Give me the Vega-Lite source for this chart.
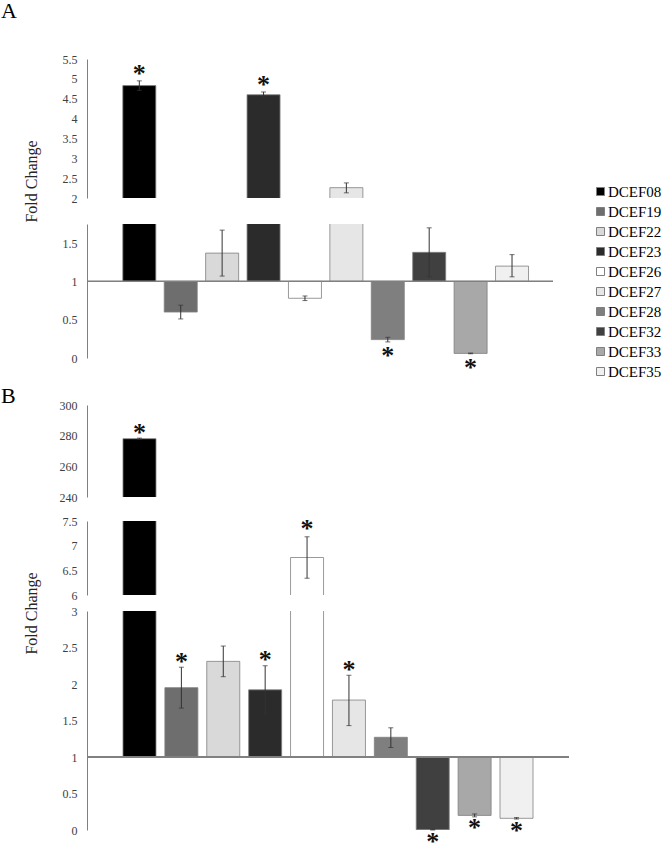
{
  "$schema": "https://vega.github.io/schema/vega-lite/v6.json",
  "padding": {"left": 1, "top": 0, "right": 0, "bottom": 0},
  "config": {
    "view": {"stroke": null},
    "font": "Liberation Serif",
    "axis": {"domainColor": "#808080", "domainWidth": 1, "ticks": false, "tickSize": 0, "grid": false, "labelFont": "Liberation Serif", "labelFontSize": 12, "labelColor": "#404040", "labelPadding": 10, "format": ".1~f", "labelOverlap": false, "labelFlush": false}
  },
  "datasets": {
    "d": [
      {"panel": "A", "name": "DCEF08", "value": 4.83, "lo": 4.71, "hi": 4.95, "seg": "A1", "star": "up"},
      {"panel": "A", "name": "DCEF19", "value": 0.60, "lo": 0.51, "hi": 0.69, "seg": "A2", "star": "none"},
      {"panel": "A", "name": "DCEF22", "value": 1.37, "lo": 1.07, "hi": 1.67, "seg": "A2", "star": "none"},
      {"panel": "A", "name": "DCEF23", "value": 4.60, "lo": 4.54, "hi": 4.67, "seg": "A1", "star": "up"},
      {"panel": "A", "name": "DCEF26", "value": 0.78, "lo": 0.75, "hi": 0.81, "seg": "A2", "star": "none"},
      {"panel": "A", "name": "DCEF27", "value": 2.26, "lo": 2.13, "hi": 2.38, "seg": "A1", "star": "none"},
      {"panel": "A", "name": "DCEF28", "value": 0.24, "lo": 0.21, "hi": 0.27, "seg": "A2", "star": "down"},
      {"panel": "A", "name": "DCEF32", "value": 1.38, "lo": 1.06, "hi": 1.70, "seg": "A2", "star": "none"},
      {"panel": "A", "name": "DCEF33", "value": 0.06, "lo": 0.055, "hi": 0.065, "seg": "A2", "star": "down"},
      {"panel": "A", "name": "DCEF35", "value": 1.20, "lo": 1.06, "hi": 1.35, "seg": "A2", "star": "none"},
      {"panel": "B", "name": "DCEF08", "value": 278.0, "lo": 277.6, "hi": 278.4, "seg": "B1", "star": "up"},
      {"panel": "B", "name": "DCEF19", "value": 1.95, "lo": 1.67, "hi": 2.23, "seg": "B3", "star": "up"},
      {"panel": "B", "name": "DCEF22", "value": 2.31, "lo": 2.10, "hi": 2.52, "seg": "B3", "star": "none"},
      {"panel": "B", "name": "DCEF23", "value": 1.92, "lo": 1.59, "hi": 2.25, "seg": "B3", "star": "up"},
      {"panel": "B", "name": "DCEF26", "value": 6.76, "lo": 6.34, "hi": 7.18, "seg": "B2", "star": "up"},
      {"panel": "B", "name": "DCEF27", "value": 1.78, "lo": 1.43, "hi": 2.12, "seg": "B3", "star": "up"},
      {"panel": "B", "name": "DCEF28", "value": 1.27, "lo": 1.13, "hi": 1.40, "seg": "B3", "star": "none"},
      {"panel": "B", "name": "DCEF32", "value": 0.004, "lo": 0.0, "hi": 0.008, "seg": "B3", "star": "down"},
      {"panel": "B", "name": "DCEF33", "value": 0.20, "lo": 0.18, "hi": 0.22, "seg": "B3", "star": "down"},
      {"panel": "B", "name": "DCEF35", "value": 0.16, "lo": 0.15, "hi": 0.17, "seg": "B3", "star": "down"}
    ]
  },
  "data": {"name": "d"},
  "bounds": "flush",
  "spacing": 0,
  "resolve": {"legend": {"fill": "independent"}},
  "vconcat": [
    {
      "width": 466, "height": 139,
      "title": {"text": "A", "anchor": "start", "frame": "group", "dx": -86, "dy": 21, "offset": 34, "fontSize": 22, "font": "Liberation Serif", "fontWeight": "normal", "baseline": "alphabetic", "color": "black"},
      "transform": [{"filter": "datum.panel == 'A'"}],
      "layer": [
        {
          "mark": {"type": "bar", "clip": true, "stroke": "#808080", "strokeWidth": 0.8},
          "encoding": {
            "x": {"field": "name", "type": "nominal", "sort": null, "axis": null, "scale": {"paddingInner": 0.203, "paddingOuter": 0.728, "align": 0.594}},
            "y": {"field": "value", "type": "quantitative", "title": "Fold Change", "scale": {"domain": [2, 5.5], "nice": false, "zero": false},
              "axis": {"values": [2, 2.5, 3, 3.5, 4, 4.5, 5, 5.5], "labelOverlap": false, "format": ".1~f", "title": "Fold Change", "titleX": -51, "titleY": 122, "titleAngle": -90, "titleAlign": "center", "titleBaseline": "alphabetic", "titleFontSize": 16, "titleFont": "Liberation Serif", "titleFontWeight": "normal", "titleColor": "#262626"}},
            "y2": {"datum": 1},
            "fill": {"field": "name", "type": "nominal", "legend": null,
              "scale": {"domain": ["DCEF08", "DCEF19", "DCEF22", "DCEF23", "DCEF26", "DCEF27", "DCEF28", "DCEF32", "DCEF33", "DCEF35"], "range": ["#000000", "#6e6e6e", "#d9d9d9", "#2b2b2b", "#ffffff", "#e6e6e6", "#7f7f7f", "#404040", "#a8a8a8", "#f0f0f0"]}}
          }
        },
        {
          "transform": [{"filter": "datum.seg == 'A1'"}],
          "mark": {"type": "errorbar", "color": "#333333", "thickness": 1, "ticks": {"size": 5}},
          "encoding": {
            "x": {"field": "name", "type": "nominal", "sort": null, "axis": null, "scale": {"paddingInner": 0.203, "paddingOuter": 0.728, "align": 0.594}},
            "y": {"field": "lo", "type": "quantitative", "title": "Fold Change", "scale": {"domain": [2, 5.5], "nice": false, "zero": false},
              "axis": {"values": [2, 2.5, 3, 3.5, 4, 4.5, 5, 5.5], "labelOverlap": false, "format": ".1~f", "title": "Fold Change", "titleX": -51, "titleY": 122, "titleAngle": -90, "titleAlign": "center", "titleBaseline": "alphabetic", "titleFontSize": 16, "titleFont": "Liberation Serif", "titleFontWeight": "normal", "titleColor": "#262626"}},
            "y2": {"field": "hi"}
          }
        },
        {
          "transform": [{"filter": "datum.seg == 'A1' && datum.star == 'up'"}],
          "mark": {"type": "text", "text": "*", "font": "Liberation Serif", "fontSize": 26, "fontWeight": "bold", "baseline": "alphabetic", "dy": 1.5, "color": "#111111"},
          "encoding": {
            "x": {"field": "name", "type": "nominal", "sort": null, "axis": null, "scale": {"paddingInner": 0.203, "paddingOuter": 0.728, "align": 0.594}},
            "y": {"field": "hi", "type": "quantitative", "title": "Fold Change", "scale": {"domain": [2, 5.5], "nice": false, "zero": false},
              "axis": {"values": [2, 2.5, 3, 3.5, 4, 4.5, 5, 5.5], "labelOverlap": false, "format": ".1~f", "title": "Fold Change", "titleX": -51, "titleY": 122, "titleAngle": -90, "titleAlign": "center", "titleBaseline": "alphabetic", "titleFontSize": 16, "titleFont": "Liberation Serif", "titleFontWeight": "normal", "titleColor": "#262626"}}
          }
        }
      ]
    },
    {"width": 10, "height": 26, "data": {"values": []}, "mark": "point"},
    {
      "width": 466, "height": 134,
      "transform": [{"filter": "datum.panel == 'A'"}],
      "layer": [
        {
          "mark": {"type": "bar", "clip": true, "stroke": "#808080", "strokeWidth": 0.8},
          "encoding": {
            "x": {"field": "name", "type": "nominal", "sort": null, "axis": null, "scale": {"paddingInner": 0.203, "paddingOuter": 0.728, "align": 0.594}},
            "y": {"field": "value", "type": "quantitative", "title": null, "scale": {"domain": [0, 1.75], "nice": false, "zero": false},
              "axis": {"values": [0, 0.5, 1, 1.5], "labelOverlap": false, "format": ".1~f", "title": null}},
            "y2": {"datum": 1},
            "fill": {"field": "name", "type": "nominal",
              "scale": {"domain": ["DCEF08", "DCEF19", "DCEF22", "DCEF23", "DCEF26", "DCEF27", "DCEF28", "DCEF32", "DCEF33", "DCEF35"], "range": ["#000000", "#6e6e6e", "#d9d9d9", "#2b2b2b", "#ffffff", "#e6e6e6", "#7f7f7f", "#404040", "#a8a8a8", "#f0f0f0"]},
              "legend": {"orient": "none", "legendX": 506, "legendY": -40, "title": null, "direction": "vertical", "symbolType": "square", "symbolSize": 64, "symbolStrokeColor": "#7f7f7f", "symbolStrokeWidth": 1, "labelFont": "Liberation Serif", "labelFontSize": 15, "labelColor": "#000000", "labelOffset": 0, "rowPadding": 4, "padding": 0}}
          }
        },
        {
          "mark": {"type": "rule", "color": "#808080", "strokeWidth": 1},
          "encoding": {"y": {"datum": 1, "type": "quantitative", "title": null, "scale": {"domain": [0, 1.75], "nice": false, "zero": false},
            "axis": {"values": [0, 0.5, 1, 1.5], "labelOverlap": false, "format": ".1~f", "title": null}}}
        },
        {
          "transform": [{"filter": "datum.seg == 'A2'"}],
          "mark": {"type": "errorbar", "color": "#333333", "thickness": 1, "ticks": {"size": 5}},
          "encoding": {
            "x": {"field": "name", "type": "nominal", "sort": null, "axis": null, "scale": {"paddingInner": 0.203, "paddingOuter": 0.728, "align": 0.594}},
            "y": {"field": "lo", "type": "quantitative", "title": null, "scale": {"domain": [0, 1.75], "nice": false, "zero": false},
              "axis": {"values": [0, 0.5, 1, 1.5], "labelOverlap": false, "format": ".1~f", "title": null}},
            "y2": {"field": "hi"}
          }
        },
        {
          "transform": [{"filter": "datum.seg == 'A2' && datum.star == 'down'"}],
          "mark": {"type": "text", "text": "*", "font": "Liberation Serif", "fontSize": 26, "fontWeight": "bold", "baseline": "alphabetic", "dy": 22.5, "color": "#111111"},
          "encoding": {
            "x": {"field": "name", "type": "nominal", "sort": null, "axis": null, "scale": {"paddingInner": 0.203, "paddingOuter": 0.728, "align": 0.594}},
            "y": {"field": "lo", "type": "quantitative", "title": null, "scale": {"domain": [0, 1.75], "nice": false, "zero": false},
              "axis": {"values": [0, 0.5, 1, 1.5], "labelOverlap": false, "format": ".1~f", "title": null}}
          }
        }
      ]
    },
    {"width": 10, "height": 47, "data": {"values": []}, "mark": "point"},
    {
      "width": 482, "height": 92,
      "title": {"text": "B", "anchor": "start", "frame": "group", "dx": -86, "dy": 22, "offset": -4, "fontSize": 22, "font": "Liberation Serif", "fontWeight": "normal", "baseline": "alphabetic", "color": "black"},
      "transform": [{"filter": "datum.panel == 'B'"}],
      "layer": [
        {
          "mark": {"type": "bar", "clip": true, "stroke": "#808080", "strokeWidth": 0.8},
          "encoding": {
            "x": {"field": "name", "type": "nominal", "sort": null, "axis": null, "scale": {"paddingInner": 0.212, "paddingOuter": 0.859, "align": 0.5}},
            "y": {"field": "value", "type": "quantitative", "title": null, "scale": {"domain": [240, 300], "nice": false, "zero": false},
              "axis": {"values": [240, 260, 280, 300], "labelOverlap": false, "format": ".1~f", "title": null}},
            "y2": {"datum": 1},
            "fill": {"field": "name", "type": "nominal", "legend": null,
              "scale": {"domain": ["DCEF08", "DCEF19", "DCEF22", "DCEF23", "DCEF26", "DCEF27", "DCEF28", "DCEF32", "DCEF33", "DCEF35"], "range": ["#000000", "#6e6e6e", "#d9d9d9", "#2b2b2b", "#ffffff", "#e6e6e6", "#7f7f7f", "#404040", "#a8a8a8", "#f0f0f0"]}}
          }
        },
        {
          "transform": [{"filter": "datum.seg == 'B1'"}],
          "mark": {"type": "errorbar", "color": "#333333", "thickness": 1, "ticks": {"size": 5}},
          "encoding": {
            "x": {"field": "name", "type": "nominal", "sort": null, "axis": null, "scale": {"paddingInner": 0.212, "paddingOuter": 0.859, "align": 0.5}},
            "y": {"field": "lo", "type": "quantitative", "title": null, "scale": {"domain": [240, 300], "nice": false, "zero": false},
              "axis": {"values": [240, 260, 280, 300], "labelOverlap": false, "format": ".1~f", "title": null}},
            "y2": {"field": "hi"}
          }
        },
        {
          "transform": [{"filter": "datum.seg == 'B1' && datum.star == 'up'"}],
          "mark": {"type": "text", "text": "*", "font": "Liberation Serif", "fontSize": 26, "fontWeight": "bold", "baseline": "alphabetic", "dy": 2.5, "color": "#111111"},
          "encoding": {
            "x": {"field": "name", "type": "nominal", "sort": null, "axis": null, "scale": {"paddingInner": 0.212, "paddingOuter": 0.859, "align": 0.5}},
            "y": {"field": "hi", "type": "quantitative", "title": null, "scale": {"domain": [240, 300], "nice": false, "zero": false},
              "axis": {"values": [240, 260, 280, 300], "labelOverlap": false, "format": ".1~f", "title": null}}
          }
        }
      ]
    },
    {"width": 10, "height": 24, "data": {"values": []}, "mark": "point"},
    {
      "width": 482, "height": 74,
      "transform": [{"filter": "datum.panel == 'B'"}],
      "layer": [
        {
          "mark": {"type": "bar", "clip": true, "stroke": "#808080", "strokeWidth": 0.8},
          "encoding": {
            "x": {"field": "name", "type": "nominal", "sort": null, "axis": null, "scale": {"paddingInner": 0.212, "paddingOuter": 0.859, "align": 0.5}},
            "y": {"field": "value", "type": "quantitative", "title": "Fold Change", "scale": {"domain": [6, 7.5], "nice": false, "zero": false},
              "axis": {"values": [6, 6.5, 7, 7.5], "labelOverlap": false, "format": ".1~f", "title": "Fold Change", "titleX": -51, "titleY": 92, "titleAngle": -90, "titleAlign": "center", "titleBaseline": "alphabetic", "titleFontSize": 16, "titleFont": "Liberation Serif", "titleFontWeight": "normal", "titleColor": "#262626"}},
            "y2": {"datum": 1},
            "fill": {"field": "name", "type": "nominal", "legend": null,
              "scale": {"domain": ["DCEF08", "DCEF19", "DCEF22", "DCEF23", "DCEF26", "DCEF27", "DCEF28", "DCEF32", "DCEF33", "DCEF35"], "range": ["#000000", "#6e6e6e", "#d9d9d9", "#2b2b2b", "#ffffff", "#e6e6e6", "#7f7f7f", "#404040", "#a8a8a8", "#f0f0f0"]}}
          }
        },
        {
          "transform": [{"filter": "datum.seg == 'B2'"}],
          "mark": {"type": "errorbar", "color": "#333333", "thickness": 1, "ticks": {"size": 5}},
          "encoding": {
            "x": {"field": "name", "type": "nominal", "sort": null, "axis": null, "scale": {"paddingInner": 0.212, "paddingOuter": 0.859, "align": 0.5}},
            "y": {"field": "lo", "type": "quantitative", "title": "Fold Change", "scale": {"domain": [6, 7.5], "nice": false, "zero": false},
              "axis": {"values": [6, 6.5, 7, 7.5], "labelOverlap": false, "format": ".1~f", "title": "Fold Change", "titleX": -51, "titleY": 92, "titleAngle": -90, "titleAlign": "center", "titleBaseline": "alphabetic", "titleFontSize": 16, "titleFont": "Liberation Serif", "titleFontWeight": "normal", "titleColor": "#262626"}},
            "y2": {"field": "hi"}
          }
        },
        {
          "transform": [{"filter": "datum.seg == 'B2' && datum.star == 'up'"}],
          "mark": {"type": "text", "text": "*", "font": "Liberation Serif", "fontSize": 26, "fontWeight": "bold", "baseline": "alphabetic", "dy": 0.5, "color": "#111111"},
          "encoding": {
            "x": {"field": "name", "type": "nominal", "sort": null, "axis": null, "scale": {"paddingInner": 0.212, "paddingOuter": 0.859, "align": 0.5}},
            "y": {"field": "hi", "type": "quantitative", "title": "Fold Change", "scale": {"domain": [6, 7.5], "nice": false, "zero": false},
              "axis": {"values": [6, 6.5, 7, 7.5], "labelOverlap": false, "format": ".1~f", "title": "Fold Change", "titleX": -51, "titleY": 92, "titleAngle": -90, "titleAlign": "center", "titleBaseline": "alphabetic", "titleFontSize": 16, "titleFont": "Liberation Serif", "titleFontWeight": "normal", "titleColor": "#262626"}}
          }
        }
      ]
    },
    {"width": 10, "height": 16, "data": {"values": []}, "mark": "point"},
    {
      "width": 482, "height": 219,
      "transform": [{"filter": "datum.panel == 'B'"}],
      "layer": [
        {
          "mark": {"type": "bar", "clip": true, "stroke": "#808080", "strokeWidth": 0.8},
          "encoding": {
            "x": {"field": "name", "type": "nominal", "sort": null, "axis": null, "scale": {"paddingInner": 0.212, "paddingOuter": 0.859, "align": 0.5}},
            "y": {"field": "value", "type": "quantitative", "title": null, "scale": {"domain": [0, 3], "nice": false, "zero": false},
              "axis": {"values": [0, 0.5, 1, 1.5, 2, 2.5, 3], "labelOverlap": false, "format": ".1~f", "title": null}},
            "y2": {"datum": 1},
            "fill": {"field": "name", "type": "nominal", "legend": null,
              "scale": {"domain": ["DCEF08", "DCEF19", "DCEF22", "DCEF23", "DCEF26", "DCEF27", "DCEF28", "DCEF32", "DCEF33", "DCEF35"], "range": ["#000000", "#6e6e6e", "#d9d9d9", "#2b2b2b", "#ffffff", "#e6e6e6", "#7f7f7f", "#404040", "#a8a8a8", "#f0f0f0"]}}
          }
        },
        {
          "mark": {"type": "rule", "color": "#808080", "strokeWidth": 1},
          "encoding": {"y": {"datum": 1, "type": "quantitative", "title": null, "scale": {"domain": [0, 3], "nice": false, "zero": false},
            "axis": {"values": [0, 0.5, 1, 1.5, 2, 2.5, 3], "labelOverlap": false, "format": ".1~f", "title": null}}}
        },
        {
          "transform": [{"filter": "datum.seg == 'B3'"}],
          "mark": {"type": "errorbar", "color": "#333333", "thickness": 1, "ticks": {"size": 5}},
          "encoding": {
            "x": {"field": "name", "type": "nominal", "sort": null, "axis": null, "scale": {"paddingInner": 0.212, "paddingOuter": 0.859, "align": 0.5}},
            "y": {"field": "lo", "type": "quantitative", "title": null, "scale": {"domain": [0, 3], "nice": false, "zero": false},
              "axis": {"values": [0, 0.5, 1, 1.5, 2, 2.5, 3], "labelOverlap": false, "format": ".1~f", "title": null}},
            "y2": {"field": "hi"}
          }
        },
        {
          "transform": [{"filter": "datum.seg == 'B3' && datum.star == 'up'"}],
          "mark": {"type": "text", "text": "*", "font": "Liberation Serif", "fontSize": 26, "fontWeight": "bold", "baseline": "alphabetic", "dy": 2.5, "color": "#111111"},
          "encoding": {
            "x": {"field": "name", "type": "nominal", "sort": null, "axis": null, "scale": {"paddingInner": 0.212, "paddingOuter": 0.859, "align": 0.5}},
            "y": {"field": "hi", "type": "quantitative", "title": null, "scale": {"domain": [0, 3], "nice": false, "zero": false},
              "axis": {"values": [0, 0.5, 1, 1.5, 2, 2.5, 3], "labelOverlap": false, "format": ".1~f", "title": null}}
          }
        },
        {
          "transform": [{"filter": "datum.seg == 'B3' && datum.star == 'down'"}],
          "mark": {"type": "text", "text": "*", "font": "Liberation Serif", "fontSize": 26, "fontWeight": "bold", "baseline": "alphabetic", "dy": 19.5, "color": "#111111"},
          "encoding": {
            "x": {"field": "name", "type": "nominal", "sort": null, "axis": null, "scale": {"paddingInner": 0.212, "paddingOuter": 0.859, "align": 0.5}},
            "y": {"field": "lo", "type": "quantitative", "title": null, "scale": {"domain": [0, 3], "nice": false, "zero": false},
              "axis": {"values": [0, 0.5, 1, 1.5, 2, 2.5, 3], "labelOverlap": false, "format": ".1~f", "title": null}}
          }
        }
      ]
    }
  ]
}
